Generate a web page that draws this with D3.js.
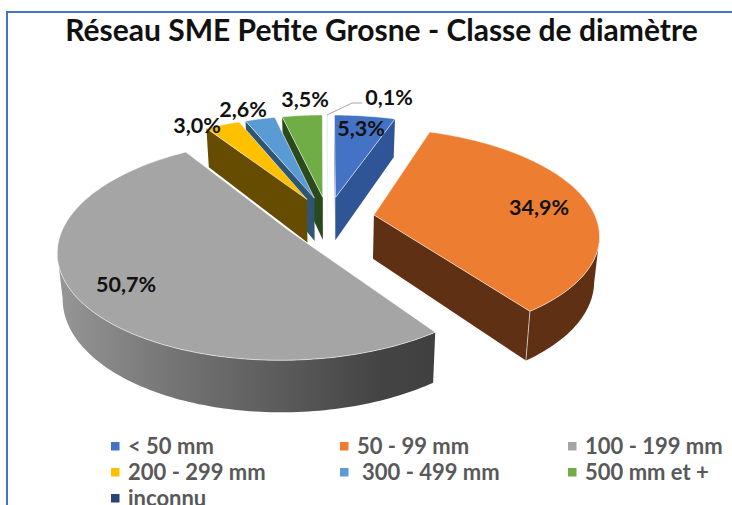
<!DOCTYPE html>
<html><head><meta charset="utf-8">
<script src="https://cdn.jsdelivr.net/npm/d3@7"></script>
<style>html,body{margin:0;padding:0;background:#fff;overflow:hidden}svg{display:block}text{font-family:Lato,Carlito,"Open Sans",sans-serif}</style>
</head><body><svg id="c" width="732" height="505"></svg>
<script>
const categories=["< 50 mm","50 - 99 mm","100 - 199 mm","200 - 299 mm","300 - 499 mm","500 mm et +","inconnu"];
const values=[5.3,34.9,50.7,3.0,2.6,3.5,0.1];
const labels=["5,3%","34,9%","50,7%","3,0%","2,6%","3,5%","0,1%"];
const topColors=["#4472c4","#ed7d31","#a5a5a5","#ffc000","#5b9bd5","#70ad47","#264478"];
const sideColors=["#2f5597","#5f3013","#6e6e6e","#654c00","#2f5575","#2b4a1c","#1a2f55"];
const labelAt=[[361,128],[539,207],[126,284],[197,125],[243,109],[305,99],[389,97]];
const legendX=[111,340,568], legendTextX=[128,357,585], legendY=[446,472,498];
const legendShift=[0,0,0,0,5,0,0];

const svg=d3.select("#c");
const R=222,EXPL=0.21,K=0.171,CX=328;
const px=d3.scaleLinear().domain([0,1]).range([CX,CX+R]);
const py=d3.scaleLinear().domain([0,1]).range([218,218-102.9]);
const proj=(U,V)=>{const s=1/(1+K*V);return [px(U*s),py(V*s),s];};
const arcs=d3.pie().sort(null).value(d=>d).startAngle(0).endAngle(2*Math.PI)(values);

const defs=svg.append("defs");
const gw=defs.append("linearGradient").attr("id","wall2").attr("gradientUnits","userSpaceOnUse")
  .attr("x1",58).attr("x2",436).attr("y1",0).attr("y2",0);
gw.append("stop").attr("offset",0).attr("stop-color","#969696");
gw.append("stop").attr("offset",.3).attr("stop-color","#757575");
gw.append("stop").attr("offset",.85).attr("stop-color","#444444");
gw.append("stop").attr("offset",1).attr("stop-color","#404040");

svg.append("path").attr("d",d3.line()([[7,505],[7,12],[732,12]])).attr("fill","none").attr("stroke","#4472c4").attr("stroke-width",2);

const line=d3.line();
const down=p=>[CX+(p[0]-CX)*0.98,p[1]+10+34*p[2]];
const wedges=arcs.map((a,i)=>{
  const mid=(a.startAngle+a.endAngle)/2;
  const oU=Math.sin(mid)*EXPL,oV=Math.cos(mid)*EXPL;
  const n=Math.max(2,Math.ceil((a.endAngle-a.startAngle)/0.02));
  const rim=d3.range(n+1).map(k=>{
    const t=a.startAngle+(a.endAngle-a.startAngle)*k/n;
    return proj(oU+Math.sin(t),oV+Math.cos(t));
  });
  return {i,oV,apex:proj(oU,oV),rim};
}).sort((p,q)=>q.oV-p.oV);

wedges.forEach(w=>{
  const g=svg.append("g").attr("opacity",w.i==6?0.1:1);
  const fill=w.i==2?"url(#wall2)":sideColors[w.i];
  const face=pts=>{
    if(pts.length<2) return;
    g.append("path").attr("d",line([...pts.map(p=>[p[0],p[1]]),...pts.slice().reverse().map(down)])+"Z").attr("fill",fill);
  };
  const vis=(p,q)=>q[0]<p[0];
  const first=w.rim[0],last=w.rim[w.rim.length-1];
  // flat cut faces and the round wall: only the parts turned towards the viewer are drawn
  if(vis(w.apex,first)) face([w.apex,first]);
  let run=[];
  w.rim.forEach((p,k)=>{
    const q=w.rim[k+1];
    if(q&&vis(p,q)){ if(!run.length) run.push(p); run.push(q); }
  });
  face(run);
  if(vis(last,w.apex)){
    face([last,w.apex]);
    if(run.length){
      const d=down(last);
      g.append("path").attr("d",line([[last[0],last[1]],d])).attr("stroke","#fff").attr("stroke-opacity",.6).attr("stroke-width",1).attr("fill","none");
    }
  }
  const ring=[w.apex,...w.rim];
  g.append("path").attr("d",line(ring.map(p=>[p[0],p[1]]))+"Z")
    .attr("fill",topColors[w.i]).attr("stroke",w.i==6?"none":"#fff").attr("stroke-opacity",.55).attr("stroke-width",1);
});

svg.append("path").attr("d",d3.line()([[327,115],[352,103],[362,103]])).attr("fill","none").attr("stroke","#a6a6a6").attr("stroke-width",1);

svg.selectAll("text.lab").data(labels).join("text").attr("class","lab")
  .attr("x",(d,i)=>labelAt[i][0]).attr("y",(d,i)=>labelAt[i][1]).attr("dy",".35em")
  .attr("text-anchor","middle").attr("font-size",21.5).attr("font-weight",700).attr("fill","#111").text(d=>d);

svg.append("text").attr("x",381.5).attr("y",30).attr("dy",".35em").attr("text-anchor","middle")
  .attr("font-size",30).attr("font-weight",700).attr("fill","#111").text("Réseau SME Petite Grosne - Classe de diamètre");

categories.forEach((c,i)=>{
  const col=i%3,row=Math.floor(i/3);
  svg.append("rect").attr("x",legendX[col]).attr("y",legendY[row]-4).attr("width",8.5).attr("height",8.5).attr("fill",topColors[i]);
  svg.append("text").attr("x",legendTextX[col]+legendShift[i]).attr("y",legendY[row]).attr("dy",".35em")
    .attr("font-size",22).attr("font-weight",700).attr("fill","#595959").text(c);
});
</script></body></html>
